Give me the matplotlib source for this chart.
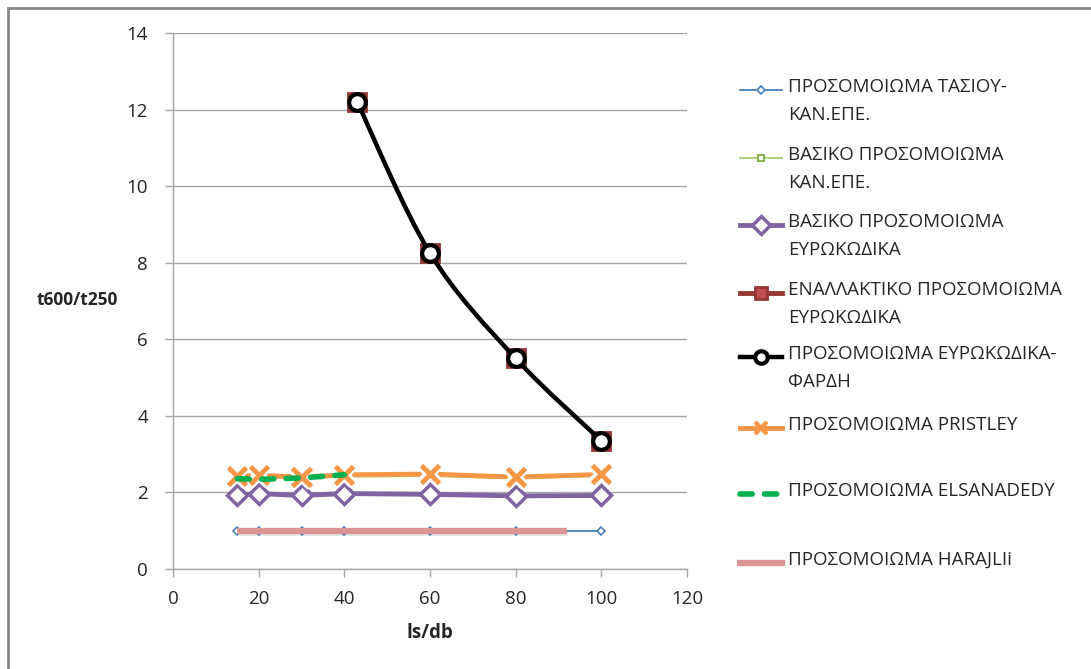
import numpy as np
import matplotlib.pyplot as plt
from matplotlib.path import Path
from matplotlib.patches import PathPatch, Rectangle
from matplotlib.lines import Line2D
import matplotlib.patheffects as pe

plt.rcParams['font.family'] = ['Open Sans', 'DejaVu Sans']

# ls/db values and t600/t250 ratios per model
x_full = [15, 20, 30, 40, 60, 80, 100]
tasiou = [1.0, 1.0, 1.0, 1.0, 1.0, 1.0, 1.0]
basiko_kanepe = [2.38, 2.40, 2.36, 2.41, 2.43, 2.36, 2.43]
basiko_euro = [1.93, 1.97, 1.92, 1.97, 1.95, 1.91, 1.92]
x_fardi = [43, 60, 80, 100]
enallaktiko = [12.2, 8.25, 5.5, 3.35]
fardi = [12.2, 8.25, 5.5, 3.35]
pristley = [2.42, 2.45, 2.40, 2.46, 2.48, 2.40, 2.47]
x_elsan = [15, 20, 30, 40]
elsanadedy = [2.36, 2.34, 2.38, 2.46]
x_harajli = [15, 20, 30, 40, 60, 80, 92]
harajli = [1.0, 1.0, 1.0, 1.0, 1.0, 1.0, 1.0]

labels = [
    "ΠΡΟΣΟΜΟΙΩΜΑ ΤΑΣΙΟΥ-\nΚΑΝ.ΕΠΕ.",
    "ΒΑΣΙΚΟ ΠΡΟΣΟΜΟΙΩΜΑ\nΚΑΝ.ΕΠΕ.",
    "ΒΑΣΙΚΟ ΠΡΟΣΟΜΟΙΩΜΑ\nΕΥΡΩΚΩΔΙΚΑ",
    "ΕΝΑΛΛΑΚΤΙΚΟ ΠΡΟΣΟΜΟΙΩΜΑ\nΕΥΡΩΚΩΔΙΚΑ",
    "ΠΡΟΣΟΜΟΙΩΜΑ ΕΥΡΩΚΩΔΙΚΑ-\nΦΑΡΔΗ",
    "ΠΡΟΣΟΜΟΙΩΜΑ PRISTLEY",
    "ΠΡΟΣΟΜΟΙΩΜΑ ELSANADEDY",
    "ΠΡΟΣΟΜΟΙΩΜΑ HARAJLIi",
]

styles = [
    dict(color='#4a7ebb', lw=1.3, marker='D', ms=4, mfc='white', mec='#4a7ebb', mew=1.2),
    dict(color='#a9cc6e', lw=1.3, marker='s', ms=5, mfc='white', mec='#8ab14a', mew=1.5),
    dict(color='#8064a2', lw=3.5, marker='D', ms=10, mfc='white', mec='#8064a2', mew=2.5),
    dict(color='#953735', lw=3.5, marker='s', ms=13, mfc='#c0504d', mec='#953735', mew=2),
    dict(color='black', lw=3.2, marker='o', ms=12, mfc='white', mec='black', mew=3),
    dict(color='#f79646', lw=3.5, marker='x', ms=13, mfc='none', mec='#f79646', mew=3.5),
    dict(color='#00b050', lw=4, ls=(0, (2.2, 2.2)), marker='None', dash_capstyle='round'),
    dict(color='#d99694', lw=4.5, marker='None'),
]

fig = plt.figure(figsize=(10.91, 6.69), dpi=100)
ax = fig.add_axes([173 / 1091, 1 - 569 / 669, (687 - 173) / 1091, (569 - 33) / 669])

shadow = [pe.SimpleLineShadow(offset=(1, -1.5), shadow_color='gray', alpha=0.2), pe.Normal()]


def smooth_path(xs, ys):
    # cubic Bezier segments through the points (Catmull-Rom style tangents)
    p = np.column_stack([xs, ys]).astype(float)
    n = len(p)
    verts = [p[0]]
    codes = [Path.MOVETO]
    for i in range(n - 1):
        p_prev = p[i - 1] if i > 0 else p[i]
        p_next2 = p[i + 2] if i + 2 < n else p[i + 1]
        c1 = p[i] + (p[i + 1] - p_prev) / 6
        c2 = p[i + 1] - (p_next2 - p[i]) / 6
        verts += [c1, c2, p[i + 1]]
        codes += [Path.CURVE4] * 3
    return Path(verts, codes)


ax.plot(x_full, tasiou, zorder=3, **styles[0])
ax.plot(x_full, basiko_kanepe, zorder=3, **styles[1])
ax.plot(x_full, basiko_euro, zorder=4, **styles[2])

# alternative model: smoothed line sits under the black one
sr = styles[3]
ax.add_patch(PathPatch(smooth_path(x_fardi, enallaktiko), fill=False, edgecolor=sr['color'],
                       lw=sr['lw'] - 1, zorder=5))
ax.plot(x_fardi, enallaktiko, ls='none', zorder=5,
        **{k: v for k, v in sr.items() if k not in ('color', 'lw')})

st = styles[4]
ax.add_patch(PathPatch(smooth_path(x_fardi, fardi), fill=False, edgecolor=st['color'],
                       lw=st['lw'], zorder=6, capstyle='round', joinstyle='round'))
ax.plot(x_fardi, fardi, ls='none', zorder=7,
        **{k: v for k, v in st.items() if k not in ('color', 'lw')})

so = styles[5]
ax.plot(x_full, pristley, color=so['color'], lw=so['lw'], zorder=6)
ax.plot(x_full, pristley, ls='none', marker='x', ms=so['ms'], mec=so['mec'], mew=so['mew'], zorder=7,
        path_effects=[pe.Stroke(linewidth=so['mew'] + 4, foreground='white'), pe.Normal()])
ax.plot(x_elsan, elsanadedy, zorder=8, **styles[6])
ax.plot(x_harajli, harajli, zorder=5, path_effects=shadow, solid_capstyle='butt', **styles[7])

ax.set_xlim(0, 120)
ax.set_ylim(0, 14)
ax.set_xticks(np.arange(0, 121, 20))
ax.set_yticks(np.arange(0, 15, 2))
ax.yaxis.grid(True, color='#a6a6a6', lw=1)
ax.set_axisbelow(True)
for s in ('top', 'right'):
    ax.spines[s].set_visible(False)
for s in ('left', 'bottom'):
    ax.spines[s].set_color('#a6a6a6')
    ax.spines[s].set_linewidth(1)
ax.tick_params(axis='both', colors='#a6a6a6', labelcolor='#262626', labelsize=13.5, length=6, width=1)
ax.tick_params(axis='x', pad=9)
ax.tick_params(axis='y', pad=12)

fig.text(77 / 1091, 1 - 300 / 669, 't600/t250', fontsize=12.5, fontweight='bold',
         ha='center', va='center', color='#262626')
fig.text(430 / 1091, 1 - 633 / 669, 'ls/db', fontsize=13.5, fontweight='bold',
         ha='center', va='center', color='#262626')

# legend drawn by hand on the right
leg_y = [90, 158, 225, 293, 357, 428, 494, 563]
for lab, st, yy in zip(labels, styles, leg_y):
    yf = 1 - yy / 669
    kw = dict(st)
    kw.pop('ms', None)
    ms = st.get('ms', 0)
    if st.get('marker') in ('D', 's', 'o', 'x'):
        ms = min(ms, 9)
    line = Line2D([740 / 1091, 782 / 1091], [yf, yf], transform=fig.transFigure,
                  markevery=[], **{k: v for k, v in kw.items() if k != 'marker'})
    fig.add_artist(line)
    if st.get('marker', 'None') != 'None':
        mk = Line2D([761 / 1091], [yf], transform=fig.transFigure, ls='none',
                    marker=st['marker'], ms=ms, mfc=st.get('mfc'), mec=st.get('mec'),
                    mew=min(st.get('mew', 1), 3))
        fig.add_artist(mk)
    fig.text(788 / 1091, yf + 12 / 669, lab, fontsize=13.5, ha='left', va='top',
             color='#262626', linespacing=1.7)

# outer chart border
fig.add_artist(Rectangle((8 / 1091, -0.05), 1.1, 1.05 - 8 / 669, transform=fig.transFigure,
                         fill=False, edgecolor='#868686', lw=2))

fig.savefig('out.png', dpi=100)
